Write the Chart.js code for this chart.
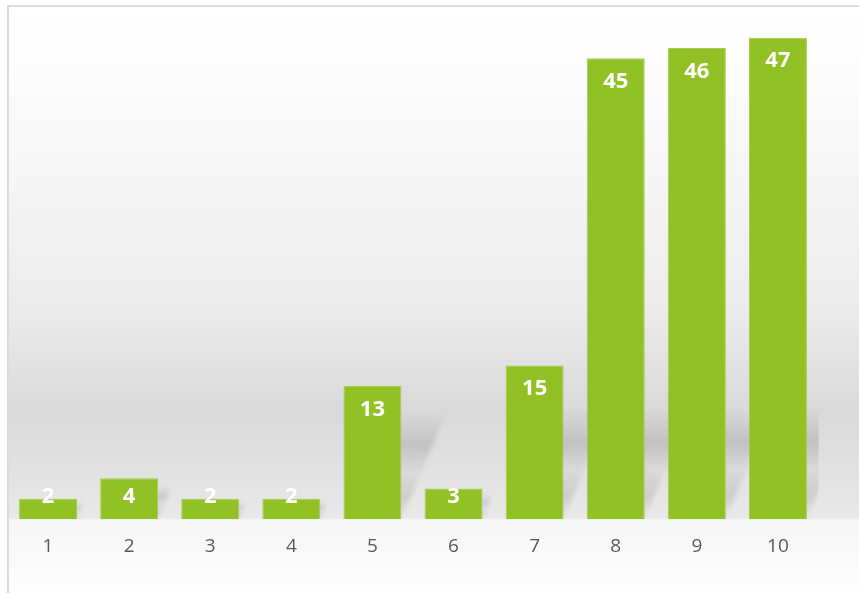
<!DOCTYPE html>
<html>
<head>
<meta charset="utf-8">
<script src="https://cdn.jsdelivr.net/npm/chart.js@4/dist/chart.umd.min.js"></script>
<style>
html,body{margin:0;padding:0;background:#fff;overflow:hidden;}
#wrap{position:relative;width:859px;height:593px;}
canvas{display:block;}
</style>
</head>
<body>
<div id="wrap"><canvas id="c" width="859" height="593"></canvas></div>
<script>
const categories = ['1','2','3','4','5','6','7','8','9','10'];
const values = [2, 4, 2, 2, 13, 3, 15, 45, 46, 47];
const yMin = 0;
const yMax = 50;

const bgPlugin = {
  id: 'bg',
  beforeDraw(chart) {
    const ctx = chart.ctx;
    const W = chart.width, H = chart.height;
    ctx.save();
    ctx.fillStyle = '#ffffff';
    ctx.fillRect(0, 0, W, H);
    const g = ctx.createLinearGradient(0, 7, 0, H);
    g.addColorStop(0, '#ffffff');
    g.addColorStop(0.12, '#fcfcfc');
    g.addColorStop(0.30, '#f5f5f5');
    g.addColorStop(0.52, '#ebebeb');
    g.addColorStop(0.69, '#d9d9d9');
    g.addColorStop(0.78, '#e0e0e0');
    g.addColorStop(0.872, '#e9e9e9');
    g.addColorStop(0.875, '#f5f5f5');
    g.addColorStop(1, '#fefefe');
    ctx.fillStyle = g;
    ctx.fillRect(9, 7, W - 9, H - 7);
    ctx.fillStyle = '#dcdcdc';
    ctx.fillRect(7, 5, W - 7, 2);
    ctx.fillRect(7, 5, 2, H - 5);
    ctx.restore();
  }
};

const shadowPlugin = {
  id: 'shadows',
  beforeDatasetsDraw(chart) {
    const ctx = chart.ctx;
    const a = chart.chartArea;
    const meta = chart.getDatasetMeta(0);
    ctx.save();
    ctx.beginPath();
    ctx.rect(a.left, a.top, a.right - a.left, a.bottom - a.top);
    ctx.clip();
    ctx.filter = 'blur(2px)';
    meta.data.forEach((bar) => {
      const half = bar.width / 2;
      const x0 = bar.x - half, x1 = bar.x + half;
      const base = bar.base;
      const h = base - bar.y;
      const sh = Math.min(h * 0.8, 110);
      const dx = sh / 2.4;
      const g = ctx.createLinearGradient(0, base, 0, base - sh);
      g.addColorStop(0, 'rgba(0,0,0,0.0)');
      g.addColorStop(0.2, 'rgba(0,0,0,0.10)');
      g.addColorStop(0.45, 'rgba(0,0,0,0.03)');
      g.addColorStop(0.7, 'rgba(0,0,0,0.12)');
      g.addColorStop(1, 'rgba(0,0,0,0)');
      ctx.fillStyle = g;
      ctx.beginPath();
      ctx.moveTo(x0, base);
      ctx.lineTo(x1, base);
      ctx.lineTo(x1 + dx, base - sh);
      ctx.lineTo(x0 + dx, base - sh);
      ctx.closePath();
      ctx.fill();
    });
    ctx.restore();
  }
};

const labelPlugin = {
  id: 'valueLabels',
  afterDatasetsDraw(chart) {
    const ctx = chart.ctx;
    const meta = chart.getDatasetMeta(0);
    const ds = chart.data.datasets[0].data;
    ctx.save();
    ctx.fillStyle = '#ffffff';
    ctx.font = 'bold 22px "Open Sans"';
    ctx.textAlign = 'center';
    ctx.textBaseline = 'middle';
    meta.data.forEach((bar, i) => {
      const y = Math.min(bar.y + 23.5, bar.base - 22.5);
      ctx.fillText(String(ds[i]), bar.x, y);
    });
    ctx.restore();
  }
};

new Chart(document.getElementById('c'), {
  type: 'bar',
  data: {
    labels: categories,
    datasets: [{
      data: values,
      backgroundColor: '#92c125',
      borderColor: '#a6cc4c',
      borderWidth: 1,
      borderSkipped: 'bottom',
      categoryPercentage: 1,
      barPercentage: 0.715
    }]
  },
  options: {
    responsive: false,
    animation: false,
    devicePixelRatio: 1,
    layout: { padding: { left: 7.5, right: 40.5, top: 7, bottom: 19 } },
    plugins: { legend: { display: false }, tooltip: { enabled: false } },
    scales: {
      x: {
        grid: { display: false, drawTicks: false },
        border: { display: false },
        ticks: { color: '#595959', font: { family: 'Open Sans', size: 19 }, padding: 16 }
      },
      y: {
        display: false,
        min: yMin,
        max: yMax
      }
    }
  },
  plugins: [bgPlugin, shadowPlugin, labelPlugin]
});
</script>
</body>
</html>
